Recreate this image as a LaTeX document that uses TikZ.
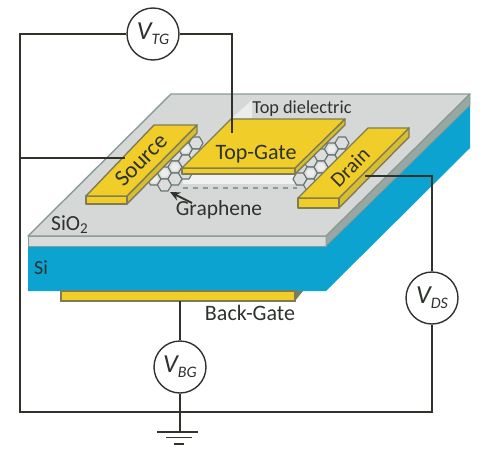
\documentclass[tikz,border=0pt]{standalone}
\usepackage{fontspec}
\setmainfont{Carlito}
\usetikzlibrary{arrows.meta}
\definecolor{sigrey}{RGB}{214,216,216}
\definecolor{sigedge}{RGB}{138,155,150}
\definecolor{siblue}{RGB}{12,163,208}
\definecolor{goldf}{RGB}{240,205,40}
\definecolor{goldedge}{RGB}{125,125,85}
\definecolor{wirec}{RGB}{50,50,45}
\definecolor{txt}{RGB}{45,50,45}
\tikzset{
  x=1pt,y=-1pt,
  wire/.style={draw=wirec,line width=1.5pt},
  meter/.style={circle,draw=wirec,line width=1.4pt,fill=white,minimum size=52pt,inner sep=0pt,text=txt,font=\fontsize{26}{26}\selectfont\itshape},
  gold/.style={fill=goldf,draw=goldedge,line width=1.4pt,line join=round},
  goldside/.style={fill=goldf!80!goldedge,draw=goldedge,line width=1.4pt,line join=round},
  lab/.style={text=txt,inner sep=0pt},
  hexa/.style={draw=sigedge!75!black,line width=1.1pt,fill=sigrey!85!white},
  hole/.style={circle,fill=white!55!sigrey,inner sep=0pt,minimum size=8pt},
}
\newcommand{\hexat}[2]{\draw[hexa] (#1+7,#2) -- (#1+3.5,#2-6) -- (#1-3.5,#2-6) -- (#1-7,#2) -- (#1-3.5,#2+6) -- (#1+3.5,#2+6) -- cycle;}
\newcommand{\msub}[1]{\raisebox{-5pt}{\fontsize{16}{16}\selectfont #1}}
\begin{document}
\begin{tikzpicture}
\useasboundingbox (0,0) rectangle (492,450);
% wafer
\fill[siblue] (28,246) -- (326,246) -- (470,105) -- (470,148) -- (326,291) -- (28,291) -- cycle;
\fill[sigrey!90!white,draw=sigedge,line width=1pt,line join=round] (28,236) -- (326,236) -- (326,246) -- (28,246) -- cycle;
\fill[sigedge!80!sigrey,draw=sigedge,line width=.8pt,line join=round] (326,236) -- (470,94) -- (470,105) -- (326,246) -- cycle;
\fill[sigrey,draw=sigedge,line width=1.4pt,line join=round] (171,94) -- (470,94) -- (326,236) -- (28,236) -- cycle;
\fill[sigrey!50!white] (232,118) -- (252,100) -- (252,118) -- cycle;
% back gate
\fill[goldedge] (295,291) -- (303,291) -- (295,301) -- cycle;
\fill[goldf,draw=goldedge,line width=1.4pt] (61,291) rectangle (295,301);
\coordinate (bgc) at (180,301);
% graphene channel
\fill[white!65!sigrey] (183,175) rectangle (297,184);
\draw[sigedge,line width=1.1pt,dash pattern=on 5pt off 5pt] (183,188) -- (297,188);
\foreach \hx/\hy in {154/179,164.5/173,164.5/185,175/155,175/167,175/179,185.5/149,185.5/161,185.5/173,196/143,196/155,
                     300/179,310.5/161,310.5/173,310.5/185,321/155,321/167,321/179,331.5/149,331.5/161,342/143,342/155}{\hexat{\hx}{\hy}}
\foreach \p in {(164.5,173),(175,167),(154,179),(185.5,149),(310.5,173),(321,167),(331.5,149)} \node[hole] at \p {};
% source
\draw[goldside] (197,125) -- (197,133) -- (127,204) -- (127,196) -- cycle;
\draw[gold] (86,196) rectangle (127,204);
\draw[gold] (154,125) -- (197,125) -- (127,196) -- (86,196) -- cycle;
\coordinate (sourcec) at (125,158);
% top gate
\draw[goldside] (345,119) -- (345,125) -- (295,174) -- (295,168) -- cycle;
\draw[gold] (182,168) rectangle (295,174);
\fill[goldf] (231,119) -- (345,119) -- (295,168) -- (182,168) -- cycle;
\draw[goldedge,line width=1.4pt,line join=round] (182,168) -- (231,119) -- (345,119) -- (295,168) -- cycle;
\coordinate (tgc) at (232,133);
% drain
\draw[goldside] (409,128) -- (409,137) -- (339,208) -- (339,198) -- cycle;
\draw[gold] (298,198) rectangle (339,208);
\draw[gold] (368,128) -- (409,128) -- (339,198) -- (298,198) -- cycle;
\coordinate (drainc) at (365,176);
% labels
\node[lab,rotate=45,font=\fontsize{23}{23}\selectfont] (source) at (141,160) {Source};
\node[lab,font=\fontsize{22}{22}\selectfont] (topgate) at (256,154) {Top-Gate};
\node[lab,rotate=45,font=\fontsize{21}{21}\selectfont] (drain) at (350,167) {Drain};
\node[lab,font=\fontsize{18.3}{18.3}\selectfont] (topdiel) at (302,109) {Top dielectric};
\node[lab,font=\fontsize{21.5}{21.5}\selectfont] (graphene) at (219,210) {Graphene};
\node[lab,anchor=west,font=\fontsize{21.5}{21.5}\selectfont] (sio) at (51,225) {SiO\textsubscript{2}};
\node[lab,anchor=west,font=\fontsize{20}{20}\selectfont] (si) at (34,268) {Si};
\node[lab,font=\fontsize{22}{22}\selectfont] (backgate) at (250,313) {Back-Gate};
\coordinate (arrowtail) at (192,203);
\coordinate (arrowhead) at (170,192);
\draw[wirec,line width=1.8pt,-{Stealth[length=10pt,width=9pt]}] (arrowtail) -- (arrowhead);
% meters
\node[meter] (vtg) at (153,34) {V\msub{TG}};
\node[meter] (vds) at (432,298) {V\msub{DS}};
\node[meter] (vbg) at (180,367) {V\msub{BG}};
% corners
\coordinate (tl) at (20,34);
\coordinate (ml) at (20,158);
\coordinate (bl) at (20,412);
\coordinate (br) at (432,412);
\coordinate (dr) at (432,176);
\coordinate (tr) at (232,34);
\coordinate (gt) at (180,432);
% wires
\draw[wire] (vtg) -- (tl) -- (bl) -- (br) -- (vds);
\draw[wire] (ml) -- (sourcec);
\draw[wire] (vtg) -- (tr) -- (tgc);
\draw[wire] (vds) -- (dr) -- (drainc);
\draw[wire] (bgc) -- (vbg);
\draw[wire] (vbg) -- (gt);
% ground
\draw[wire] (157,432) -- (198,432);
\draw[wire] (166,437.5) -- (192,437.5);
\draw[wire,line width=2pt] (174,444) -- (184,444);
\end{tikzpicture}
\end{document}
